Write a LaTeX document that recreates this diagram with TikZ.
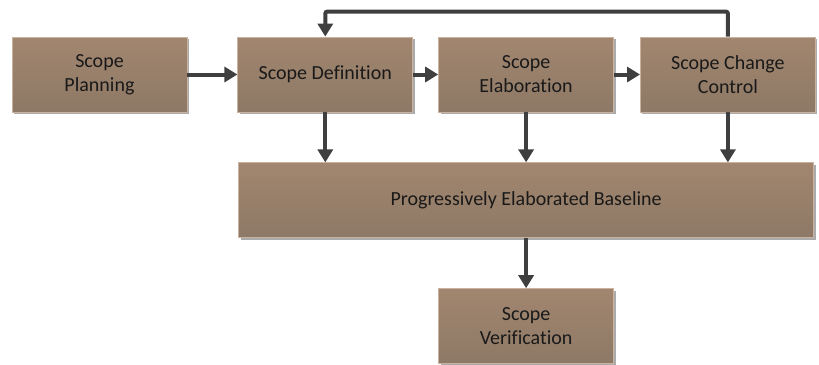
\documentclass[tikz,border=0pt]{standalone}
\usepackage{fontspec}
\setmainfont{Carlito}[Ligatures=NoCommon]
\usetikzlibrary{positioning, shadows, arrows.meta}

\definecolor{boxtop}{HTML}{A2866F}
\definecolor{boxbot}{HTML}{8D7966}
\definecolor{boxedge}{HTML}{C9B3A0}
\definecolor{arrowgray}{HTML}{3F3F3F}

\begin{document}
\begin{tikzpicture}[x=1pt, y=1pt, node distance=50pt, font=\fontsize{20}{24}\selectfont]
		% node styles
		\tikzstyle{stage} = [rectangle, draw=boxedge, line width=0.8pt, top color=boxtop, bottom color=boxbot, text=black!90, minimum width=175pt, minimum height=75pt, inner sep=0pt, align=center, drop shadow={shadow xshift=2pt, shadow yshift=-2pt, fill=black!55, opacity=0.6}]
		\tikzstyle{arrow} = [line width=4pt, draw=arrowgray, -{Triangle[length=13pt, width=15pt]}]
		
		\useasboundingbox (0,0) rectangle (819,-364);
		
		% nodes
		\node [stage] (planning) at (99.5,-74.5) {Scope\\Planning};
		\node [stage, right=50pt of planning] (definition) {Scope Definition};
		\node [stage, right=25pt of definition] (elaboration) {Scope\\Elaboration};
		\node [stage, right=26pt of elaboration] (change) {Scope Change\\Control};
		\node [stage, minimum width=575pt, below=50pt of elaboration] (baseline) {Progressively Elaborated Baseline};
		\node [stage, below=50pt of baseline] (verification) {Scope\\Verification};
		
		% arrows
		\draw [arrow] (planning) -- (definition);
		\draw [arrow] (definition) -- (elaboration);
		\draw [arrow] (elaboration) -- (change);
		\draw [arrow, rounded corners=2pt] (change.north) -- ++(0,25) -| (definition.north);
		\draw [arrow] (definition.south) -- (definition.south |- baseline.north);
		\draw [arrow] (elaboration.south) -- (baseline.north -| elaboration.south);
		\draw [arrow] (change.south) -- (change.south |- baseline.north);
		\draw [arrow] (baseline) -- (verification);
\end{tikzpicture}
\end{document}
